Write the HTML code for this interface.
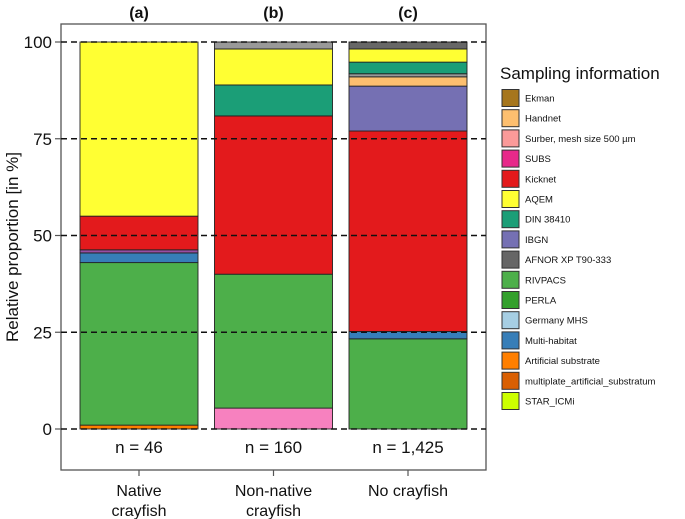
<!DOCTYPE html>
<html><head><meta charset="utf-8"><style>
html,body{margin:0;padding:0;background:#fff;}
svg{display:block;font-family:"Liberation Sans",sans-serif;}
</style></head><body>
<svg id="chart" width="685" height="519" viewBox="0 0 685 519"></svg>
<script>
const categories = ["Native\ncrayfish", "Non-native\ncrayfish", "No crayfish"];
const panelLabels = ["(a)", "(b)", "(c)"];
const sampleSizes = ["n = 46", "n = 160", "n = 1,425"];
const yTicks = [0, 25, 50, 75, 100];
const methods = ["Ekman","Handnet","Surber, mesh size 500 µm","SUBS","Kicknet","AQEM","DIN 38410","IBGN","AFNOR XP T90-333","RIVPACS","PERLA","Germany MHS","Multi-habitat","Artificial substrate","multiplate_artificial_substratum","STAR_ICMi"];
const methodColors = ["#a6761d","#fdbf6f","#fb9a99","#e7298a","#e31a1c","#ffff33","#1b9e77","#7570b3","#666666","#4daf4a","#33a02c","#a6cee3","#377eb8","#ff7f00","#d95f02","#ccff00"];
// segments bottom to top: [color, percent]
const segA = [["#ff7f00",1],["#4daf4a",42],["#377eb8",2.5],["#984ea3",0.8],["#e31a1c",8.7],["#ffff33",45]];
const segB = [["#f781bf",5.4],["#4daf4a",34.6],["#e31a1c",40.9],["#1b9e77",8],["#ffff33",9.3],["#999999",1.8]];
const segC = [["#4daf4a",23.3],["#377eb8",1.9],["#e31a1c",51.8],["#7570b3",11.6],["#fdbf6f",2.4],["#999999",0.8],["#1b9e77",3],["#ffff33",3.4],["#666666",1.8]];
const stacks = [segA, segB, segC];

const NS = "http://www.w3.org/2000/svg";
const svg = document.getElementById("chart");
function el(tag, attrs, parent){const e=document.createElementNS(NS,tag);for(const k in attrs)e.setAttribute(k,attrs[k]);(parent||svg).appendChild(e);return e;}
const y0=429, yScale=3.87;
const yPos = v => y0 - v*yScale;
const xCenter = i => 139 + i*134.5;
const barW = 118;

const panel = el("rect",{x:61,y:24,width:425,height:446,fill:"#fff",stroke:"#555","stroke-width":1.3});



stacks.forEach((segs,i)=>{
  let cum=0;
  segs.forEach((s,j)=>{
    const r=el("rect",{x:xCenter(i)-barW/2,y:yPos(cum+s[1]),width:barW,height:s[1]*yScale,fill:s[0],stroke:"#222","stroke-width":0.9});
    
    
    cum+=s[1];
  });
});

yTicks.forEach(t=>{
  const l=el("line",{x1:61,x2:486,y1:yPos(t),y2:yPos(t),stroke:"#111","stroke-width":1.6,"stroke-dasharray":"6,4"});
  
  
  el("line",{x1:55,x2:61,y1:yPos(t),y2:yPos(t),stroke:"#555","stroke-width":1.2});
  const tx=el("text",{x:52,y:yPos(t)+6,"text-anchor":"end","font-size":17,fill:"#111"});
  tx.textContent=t;
  
  
});

categories.forEach((c,i)=>{
  const x=xCenter(i);
  const p=el("text",{x:x,y:18,"text-anchor":"middle","font-size":16,"font-weight":"bold",fill:"#111"});
  p.textContent=panelLabels[i];
  
  
  const n=el("text",{x:x,y:453,"text-anchor":"middle","font-size":17,fill:"#111"});
  n.textContent=sampleSizes[i];
  
  
  el("line",{x1:x,x2:x,y1:470,y2:476,stroke:"#555","stroke-width":1.2});
  c.split("\n").forEach((ln,k)=>{
    const t=el("text",{x:x,y:496+k*20,"text-anchor":"middle","font-size":16,fill:"#111"});
    t.textContent=ln;
    
    
  });
});

const yt=el("text",{x:0,y:0,transform:"translate(18,247) rotate(-90)","text-anchor":"middle","font-size":17,fill:"#111"});
yt.textContent="Relative proportion [in %]";



const lt=el("text",{x:500,y:79,"font-size":17,fill:"#111"});
lt.textContent="Sampling information";


methods.forEach((m,i)=>{
  const cy=98+i*20.2;
  const g=el("g",{});
  
  
  el("rect",{x:502,y:cy-8.5,width:17,height:17,fill:methodColors[i],stroke:"#333","stroke-width":1},g);
  const t=el("text",{x:525,y:cy+3.5,"font-size":9.5,fill:"#111"},g);
  t.textContent=m;
});
</script>
</body></html>
